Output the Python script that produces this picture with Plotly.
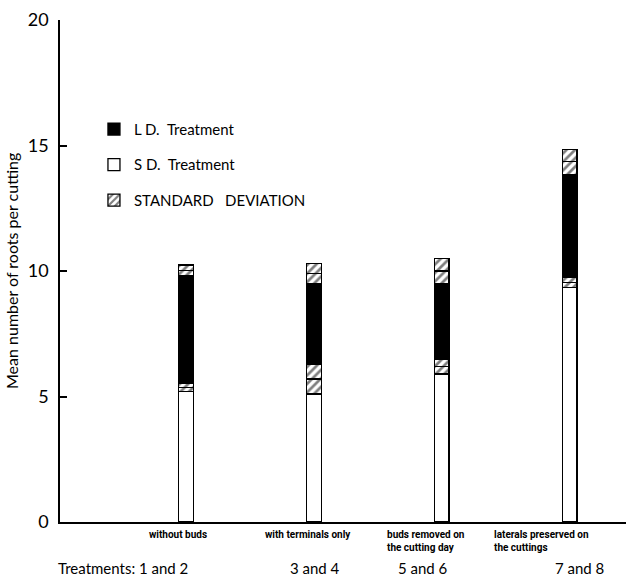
import plotly.graph_objects as go

# Root counts per cutting, short-day (S.D.) and long-day (L.D.) treatments
groups = [1, 2, 3, 4]
descriptions = [
    "without buds",
    "with terminals only",
    "buds removed on<br>the cutting day",
    "laterals preserved on<br>the cuttings",
]
treatments = ["1 and 2", "3 and 4", "5 and 6", "7 and 8"]
sd_mean = [5.35, 5.70, 6.20, 9.55]
sd_std = [0.16, 0.60, 0.30, 0.20]
ld_mean = [10.02, 9.90, 10.00, 14.35]
ld_std = [0.22, 0.40, 0.50, 0.50]
y_ticks = [0, 5, 10, 15, 20]

FONT = "Lato, 'DejaVu Sans', sans-serif"
BAR_W = 0.115
LINE = dict(color="black", width=1.3)
HATCH = dict(shape="/", fgcolor="black", bgcolor="white", size=6, solidity=0.45)

# segment heights of each stacked column
sd_base = [m - s for m, s in zip(sd_mean, sd_std)]
ld_body = [(lm - ls) - (sm + ss) for lm, ls, sm, ss in zip(ld_mean, ld_std, sd_mean, sd_std)]

fig = go.Figure()
fig.add_bar(x=groups, y=sd_base, width=BAR_W, name="S D.  Treatment",
            marker=dict(color="white", line=LINE), legendrank=2, legendgroup="sd")
fig.add_bar(x=groups, y=sd_std, width=BAR_W, name="STANDARD   DEVIATION",
            marker=dict(color="white", line=LINE, pattern=HATCH), legendrank=3, legendgroup="std")
fig.add_bar(x=groups, y=sd_std, width=BAR_W, showlegend=False,
            marker=dict(color="white", line=LINE, pattern=HATCH))
fig.add_bar(x=groups, y=ld_body, width=BAR_W, name="L D.  Treatment",
            marker=dict(color="black", line=LINE), legendrank=1, legendgroup="ld")
fig.add_bar(x=groups, y=ld_std, width=BAR_W, showlegend=False,
            marker=dict(color="white", line=LINE, pattern=HATCH))
fig.add_bar(x=groups, y=ld_std, width=BAR_W, showlegend=False,
            marker=dict(color="white", line=LINE, pattern=HATCH))

# category captions under the axis
desc_shift = [-8, -6, -57, -78]
desc_align = ["center", "center", "left", "left"]
for g, d, dx, al in zip(groups, descriptions, desc_shift, desc_align):
    fig.add_annotation(x=g, y=0, xref="x", yref="paper", text=d, showarrow=False,
                       xanchor=al, yanchor="top", align=al, xshift=dx, yshift=-5,
                       font=dict(family="Roboto, sans-serif", size=10, color="black",
                                 weight="bold"))

treat_shift = [4, 1, -19, 10]
for i, (g, t, dx) in enumerate(zip(groups, treatments, treat_shift)):
    text = "Treatments: " + t if i == 0 else t
    fig.add_annotation(x=g, y=0, xref="x", yref="paper", text=text, showarrow=False,
                       xanchor="right" if i == 0 else "center", yanchor="middle",
                       xshift=dx, yshift=-46,
                       font=dict(family=FONT, size=15, color="black"))

fig.add_annotation(x=0, y=0.5, xref="paper", yref="paper",
                   text="Mean number of roots per cutting", textangle=-90,
                   showarrow=False, xanchor="center", yanchor="middle", xshift=-49,
                   font=dict(family=FONT, size=16, color="black"))

fig.update_layout(
    width=626, height=581,
    margin=dict(l=60, r=0, t=20, b=59),
    paper_bgcolor="white", plot_bgcolor="white",
    barmode="stack",
    font=dict(family=FONT, color="black"),
    legend=dict(x=0.06, y=0.815, xanchor="left", yanchor="top",
                font=dict(family=FONT, size=15, color="black"),
                tracegroupgap=13, bgcolor="rgba(0,0,0,0)"),
    xaxis=dict(range=[0.016, 4.44], showgrid=False, zeroline=False,
               showline=True, linecolor="black", linewidth=1.5,
               showticklabels=False, ticks=""),
    yaxis=dict(range=[0, 20], tickvals=y_ticks, showgrid=False, zeroline=False,
               showline=True, linecolor="black", linewidth=1.5,
               ticks="inside", ticklen=7, tickwidth=1.5, tickcolor="black",
               ticklabelstandoff=6,
               tickfont=dict(family=FONT, size=18, color="black")),
)

fig.write_html("out.html")
